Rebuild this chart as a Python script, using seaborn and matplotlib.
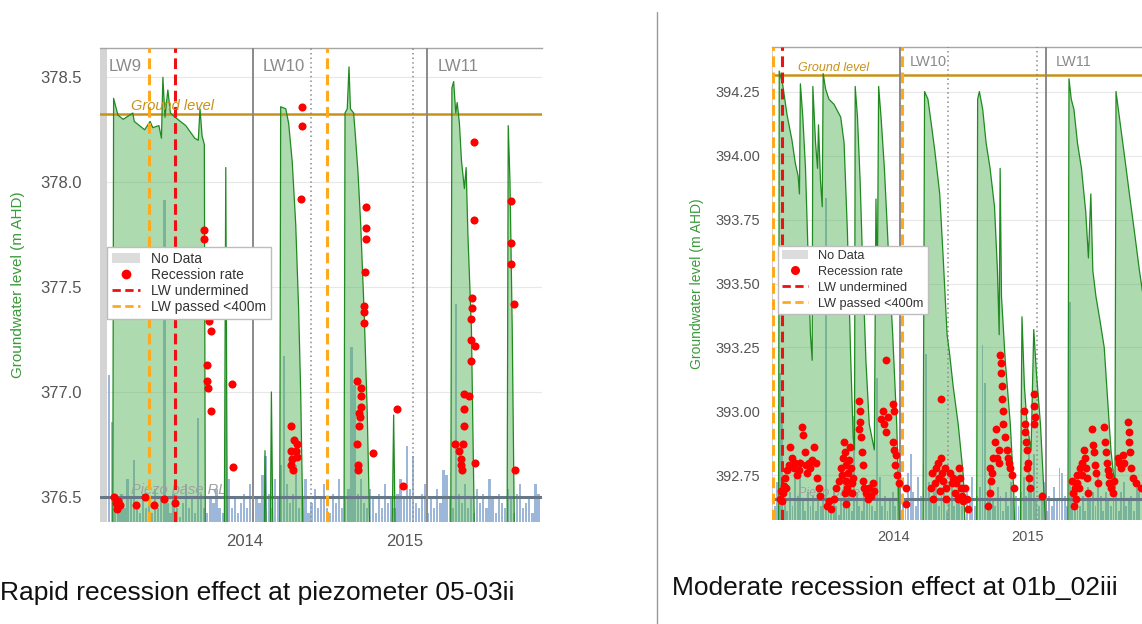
import numpy as np
import matplotlib
matplotlib.use("Agg")
import matplotlib.pyplot as plt
import seaborn as sns
from matplotlib.lines import Line2D
from matplotlib.patches import Patch

sns.set_theme(style="whitegrid")
plt.rcParams['font.family'] = ['Liberation Sans', 'DejaVu Sans']

# time axis in decimal years (same window on both piezometers)
x_start, x_end = 2013.094, 2015.856
year_ticks = [2014, 2015]

# weekly rainfall (mm), first week at x_start - same gauge for both sites
rain_mm = [
    1, 3, 8, 31, 21, 4, 2, 6, 3, 9, 5, 13,
    4, 2, 6, 3, 5, 2, 7, 3, 5, 68, 4, 2,
    6, 3, 1, 4, 8, 3, 5, 2, 22, 6, 3, 2,
    5, 4, 7, 3, 2, 30, 9, 3, 5, 2, 4, 6,
    3, 8, 2, 5, 4, 10, 14, 6, 3, 9, 5, 12,
    35, 8, 4, 6, 12, 3, 5, 9, 2, 4, 7, 3,
    5, 8, 3, 2, 6, 4, 9, 3, 5, 7, 37, 29,
    6, 9, 4, 3, 7, 5, 2, 6, 3, 8, 4, 5,
    3, 6, 9, 5, 16, 7, 14, 4, 3, 6, 8, 2,
    5, 3, 7, 4, 11, 10, 5, 3, 46, 6, 4, 8,
    3, 5, 2, 7, 4, 6, 3, 9, 5, 2, 6, 4,
    3, 7, 5, 2, 6, 8, 3, 4, 5, 2, 8, 6,
]

# ---- piezometer 05-03ii (rapid recession)
p1_level = [
    (2013.174, 376.36), (2013.179, 378.40), (2013.206, 378.32), (2013.239, 378.30),
    (2013.299, 378.33), (2013.308, 378.29), (2013.373, 378.25), (2013.407, 378.29),
    (2013.424, 378.26), (2013.462, 378.27), (2013.478, 378.21), (2013.487, 378.50),
    (2013.500, 378.31), (2013.518, 378.44), (2013.534, 378.33), (2013.563, 378.31),
    (2013.630, 378.27), (2013.686, 378.21), (2013.708, 378.20), (2013.719, 378.35),
    (2013.732, 378.22), (2013.746, 378.18), (2013.752, 376.36), (2013.871, 376.36),
    (2013.880, 378.07), (2013.889, 376.36), (2014.121, 376.36), (2014.125, 376.72),
    (2014.132, 376.36), (2014.159, 376.36), (2014.165, 377.00), (2014.174, 376.36),
    (2014.217, 376.36), (2014.223, 378.36), (2014.255, 378.35), (2014.273, 378.28),
    (2014.295, 378.10), (2014.317, 377.80), (2014.335, 377.40), (2014.348, 377.00),
    (2014.362, 376.36), (2014.619, 376.36), (2014.625, 378.33), (2014.639, 378.35),
    (2014.650, 378.55), (2014.659, 378.35), (2014.679, 378.33), (2014.690, 378.22),
    (2014.706, 378.05), (2014.723, 377.80), (2014.746, 377.35), (2014.764, 376.90),
    (2014.779, 376.36), (2014.920, 376.36), (2014.929, 376.89), (2014.938, 376.36),
    (2015.286, 376.36), (2015.293, 378.45), (2015.304, 378.48), (2015.317, 378.33),
    (2015.326, 378.38), (2015.340, 378.28), (2015.353, 378.10), (2015.371, 377.97),
    (2015.382, 378.07), (2015.393, 377.75), (2015.415, 377.30), (2015.433, 376.36),
    (2015.638, 376.36), (2015.645, 378.27), (2015.656, 378.00), (2015.670, 377.30),
    (2015.683, 376.36), (2015.862, 376.36),
]
p1_recession = [
    (2013.183, 376.50), (2013.194, 376.47), (2013.200, 376.44), (2013.206, 376.48),
    (2013.217, 376.46), (2013.317, 376.46), (2013.373, 376.50), (2013.429, 376.46),
    (2013.496, 376.49), (2013.563, 376.47),
    (2013.741, 377.77), (2013.746, 377.73), (2013.752, 377.67), (2013.759, 377.38),
    (2013.775, 377.34), (2013.786, 377.29), (2013.764, 377.13), (2013.761, 377.05),
    (2013.768, 377.02), (2013.786, 376.91), (2013.920, 377.04), (2013.924, 376.64),
    (2014.355, 378.36), (2014.355, 378.27), (2014.348, 377.92), (2014.288, 376.84),
    (2014.304, 376.77), (2014.322, 376.75), (2014.288, 376.72), (2014.317, 376.72),
    (2014.295, 376.68), (2014.322, 376.69), (2014.288, 376.65), (2014.299, 376.63),
    (2014.757, 377.88), (2014.757, 377.78), (2014.757, 377.73), (2014.750, 377.57),
    (2014.746, 377.41), (2014.746, 377.38), (2014.744, 377.33), (2014.697, 377.05),
    (2014.723, 377.02), (2014.728, 376.98), (2014.728, 376.93), (2014.712, 376.90),
    (2014.712, 376.84), (2014.701, 376.75), (2014.708, 376.63), (2014.708, 376.65),
    (2014.797, 376.71), (2014.719, 376.88), (2014.951, 376.92), (2014.987, 376.55),
    (2015.433, 378.19), (2015.433, 377.82), (2015.420, 377.45), (2015.420, 377.40),
    (2015.415, 377.35), (2015.415, 377.25), (2015.438, 377.22), (2015.415, 377.15),
    (2015.368, 376.99), (2015.400, 376.98), (2015.371, 376.92), (2015.371, 376.84),
    (2015.315, 376.75), (2015.362, 376.75), (2015.337, 376.72), (2015.348, 376.68),
    (2015.348, 376.65), (2015.353, 376.63), (2015.438, 376.66),
    (2015.661, 377.91), (2015.661, 377.71), (2015.665, 377.61), (2015.683, 377.42),
    (2015.688, 376.63),
]

# ---- piezometer 01b_02iii (moderate recession)
p2_level = [
    (2013.106, 392.56), (2013.143, 392.56), (2013.148, 394.33), (2013.173, 394.28),
    (2013.206, 394.16), (2013.243, 394.06), (2013.268, 393.97), (2013.289, 393.92),
    (2013.299, 393.85), (2013.306, 394.28), (2013.324, 394.15), (2013.344, 393.95),
    (2013.364, 393.60), (2013.381, 393.30), (2013.394, 393.20), (2013.399, 394.27),
    (2013.419, 394.05), (2013.434, 393.95), (2013.441, 394.12), (2013.456, 393.90),
    (2013.469, 393.80), (2013.476, 394.32), (2013.494, 394.26), (2013.519, 394.22),
    (2013.557, 394.20), (2013.607, 394.15), (2013.632, 394.05), (2013.657, 393.70),
    (2013.682, 393.20), (2013.700, 392.90), (2013.710, 392.85), (2013.715, 394.27),
    (2013.732, 394.15), (2013.752, 393.90), (2013.775, 393.50), (2013.795, 393.20),
    (2013.820, 392.95), (2013.858, 392.85), (2013.870, 393.83), (2013.880, 393.45),
    (2013.890, 394.27), (2013.908, 394.15), (2013.933, 393.95), (2013.970, 393.55),
    (2013.995, 393.30), (2014.025, 392.95), (2014.045, 392.56), (2014.221, 392.56),
    (2014.233, 394.25), (2014.258, 394.22), (2014.284, 394.12), (2014.309, 394.02),
    (2014.346, 393.85), (2014.372, 393.60), (2014.401, 393.30), (2014.421, 393.22),
    (2014.446, 393.10), (2014.484, 392.95), (2014.522, 392.75), (2014.534, 392.56),
    (2014.622, 392.56), (2014.629, 394.22), (2014.642, 394.25), (2014.667, 394.18),
    (2014.692, 394.05), (2014.722, 393.95), (2014.755, 393.80), (2014.777, 393.55),
    (2014.790, 393.30), (2014.797, 393.95), (2014.807, 393.45), (2014.835, 393.20),
    (2014.873, 392.95), (2014.898, 392.70), (2014.905, 392.56), (2014.948, 392.56),
    (2014.960, 393.37), (2014.978, 393.10), (2014.998, 392.95), (2015.028, 392.85),
    (2015.048, 393.32), (2015.068, 393.15), (2015.098, 392.95), (2015.136, 392.56),
    (2015.303, 392.56), (2015.311, 394.30), (2015.328, 394.22), (2015.348, 394.18),
    (2015.374, 394.05), (2015.404, 393.95), (2015.436, 393.78), (2015.456, 393.60),
    (2015.474, 393.85), (2015.489, 393.55), (2015.512, 393.45), (2015.544, 393.35),
    (2015.574, 393.25), (2015.599, 393.05), (2015.624, 392.85), (2015.644, 392.75),
    (2015.654, 392.70), (2015.662, 394.25), (2015.687, 394.15), (2015.725, 394.00),
    (2015.762, 393.85), (2015.800, 393.70), (2015.837, 393.55), (2015.865, 393.45),
]
p2_recession = [
    (2013.156, 392.66), (2013.160, 392.69), (2013.168, 392.65), (2013.175, 392.68),
    (2013.181, 392.71), (2013.193, 392.74), (2013.200, 392.70), (2013.206, 392.77),
    (2013.218, 392.79), (2013.231, 392.86), (2013.243, 392.82), (2013.256, 392.78),
    (2013.268, 392.80), (2013.281, 392.75), (2013.294, 392.77), (2013.306, 392.80),
    (2013.319, 392.94), (2013.325, 392.91), (2013.344, 392.84), (2013.350, 392.79),
    (2013.356, 392.76), (2013.369, 392.80), (2013.381, 392.78), (2013.394, 392.81),
    (2013.406, 392.86), (2013.419, 392.80), (2013.431, 392.74), (2013.444, 392.70),
    (2013.456, 392.67),
    (2013.507, 392.63), (2013.520, 392.65), (2013.532, 392.62), (2013.557, 392.66),
    (2013.575, 392.70),
    (2013.594, 392.73), (2013.607, 392.78), (2013.619, 392.75), (2013.626, 392.82),
    (2013.632, 392.88), (2013.638, 392.84), (2013.644, 392.79), (2013.650, 392.73),
    (2013.657, 392.70), (2013.663, 392.76), (2013.669, 392.81), (2013.676, 392.86),
    (2013.682, 392.78), (2013.688, 392.72), (2013.694, 392.68), (2013.700, 392.74),
    (2013.636, 392.68), (2013.650, 392.64),
    (2013.745, 393.04), (2013.748, 393.00), (2013.752, 392.96), (2013.745, 392.93),
    (2013.757, 392.90), (2013.763, 392.84), (2013.770, 392.79), (2013.776, 392.73),
    (2013.782, 392.70), (2013.795, 392.68), (2013.807, 392.66), (2013.820, 392.70),
    (2013.833, 392.67), (2013.845, 392.72), (2013.858, 392.69),
    (2013.945, 393.20), (2013.907, 392.97), (2013.920, 393.00), (2013.933, 392.95),
    (2013.945, 392.92), (2013.958, 392.98), (2013.995, 393.03), (2014.005, 393.00),
    (2013.998, 392.88), (2014.008, 392.85), (2014.020, 392.83), (2014.012, 392.79),
    (2014.028, 392.75), (2014.040, 392.72), (2014.095, 392.70), (2014.095, 392.64),
    (2014.359, 393.05), (2014.359, 392.82), (2014.283, 392.70), (2014.290, 392.76),
    (2014.296, 392.66), (2014.309, 392.72), (2014.321, 392.78), (2014.334, 392.80),
    (2014.340, 392.74), (2014.346, 392.69), (2014.365, 392.76), (2014.371, 392.73),
    (2014.384, 392.78), (2014.390, 392.70), (2014.396, 392.66),
    (2014.421, 392.76), (2014.434, 392.72), (2014.446, 392.74), (2014.459, 392.68),
    (2014.471, 392.72), (2014.480, 392.66), (2014.490, 392.78), (2014.497, 392.74),
    (2014.503, 392.70), (2014.509, 392.67), (2014.522, 392.65), (2014.535, 392.70),
    (2014.547, 392.66), (2014.559, 392.62),
    (2014.797, 393.22), (2014.800, 393.19), (2014.805, 393.15), (2014.810, 393.10),
    (2014.813, 393.05), (2014.817, 393.00), (2014.822, 392.95), (2014.767, 392.93),
    (2014.760, 392.88), (2014.785, 392.85), (2014.772, 392.82), (2014.790, 392.80),
    (2014.835, 392.90), (2014.847, 392.85), (2014.853, 392.82), (2014.860, 392.80),
    (2014.872, 392.78), (2014.885, 392.75), (2014.898, 392.70), (2014.722, 392.78),
    (2014.728, 392.73), (2014.722, 392.68), (2014.710, 392.63), (2014.747, 392.82),
    (2014.740, 392.76),
    (2014.973, 393.00), (2014.980, 392.95), (2014.985, 392.92), (2014.992, 392.88),
    (2014.998, 392.85), (2015.004, 392.80), (2014.998, 392.78), (2015.010, 392.74),
    (2015.023, 392.70), (2015.048, 393.07), (2015.053, 393.02), (2015.060, 392.98),
    (2015.050, 392.95), (2015.111, 392.67),
    (2015.336, 392.73), (2015.343, 392.68), (2015.349, 392.63), (2015.355, 392.70),
    (2015.361, 392.66), (2015.368, 392.72), (2015.374, 392.75), (2015.386, 392.70),
    (2015.392, 392.78), (2015.405, 392.75), (2015.411, 392.80), (2015.424, 392.85),
    (2015.430, 392.82), (2015.436, 392.78), (2015.449, 392.74), (2015.456, 392.68),
    (2015.486, 392.93), (2015.493, 392.87), (2015.499, 392.84), (2015.505, 392.79),
    (2015.512, 392.76), (2015.524, 392.72),
    (2015.574, 392.94), (2015.580, 392.88), (2015.587, 392.84), (2015.593, 392.80),
    (2015.599, 392.77), (2015.606, 392.75), (2015.612, 392.72), (2015.624, 392.70),
    (2015.637, 392.68), (2015.649, 392.73), (2015.674, 392.82), (2015.687, 392.80),
    (2015.700, 392.78), (2015.712, 392.83), (2015.725, 392.80), (2015.750, 392.96),
    (2015.756, 392.92), (2015.762, 392.88), (2015.768, 392.84), (2015.775, 392.78),
    (2015.787, 392.74), (2015.812, 392.72), (2015.850, 392.70),
]

# longwall events
p1_lw = {"starts": [2013.09, 2014.05, 2015.14], "names": ["LW9", "LW10", "LW11"],
         "ends": [2014.41, 2015.05], "undermined": [2013.56], "passed": [2013.40, 2014.51],
         "nodata": (2013.06, 2013.135)}
p2_lw = {"starts": [2013.09, 2014.05, 2015.14], "names": ["", "LW10", "LW11"],
         "ends": [2014.41, 2015.07], "undermined": [2013.165], "passed": [2013.105, 2014.065],
         "nodata": (2013.06, 2013.098)}

GREEN = "#1f8a1f"
GOLD = "#c8921a"
RED = "#ee1111"
ORANGE = "#ffaa1e"


def draw_panel(ax, level, dots, lw, ylim, yticks, yfmt, ground, base, fs, lab_y, pads):
    y0, y1 = ylim
    # rainfall bars along the bottom
    rain_t = x_start + np.arange(len(rain_mm)) * 7 / 365.25
    rain_h = np.array(rain_mm) / 100 * (y1 - y0)
    ax.bar(rain_t, rain_h, bottom=y0, width=0.014, color="#9db7d8", linewidth=0, zorder=1)

    ax.axvspan(*lw["nodata"], color="#d4d4d4", zorder=1.5, lw=0)

    t = [p[0] for p in level]
    lv = [p[1] for p in level]
    ax.fill_between(t, lv, y0 - 1, color="#4caf50", alpha=0.45, lw=0, zorder=2)
    sns.lineplot(x=t, y=lv, ax=ax, color=GREEN, linewidth=0.9, estimator=None, sort=False, zorder=4)

    ax.axhline(ground, color=GOLD, lw=1.8, zorder=3)
    ax.axhline(base, color="#667788", lw=2.2, zorder=3)
    ax.annotate("Ground level", xy=(2013.29, ground), xytext=(0, 0.5), textcoords="offset points",
                color=GOLD, style="italic", fontsize=fs["small"], va="bottom", zorder=5)
    ax.annotate("Piezo base RL", xy=(2013.29, base), xytext=(0, 0), textcoords="offset points",
                color="#a0a0a0", style="italic", fontsize=fs["small"], va="bottom", zorder=3)

    for x, name in zip(lw["starts"], lw["names"]):
        ax.axvline(x, color="#8a8a8a", lw=1.4, zorder=3)
        if name:
            ax.annotate(name, xy=(x, lab_y), xycoords=("data", "axes fraction"), xytext=(7, 0),
                        textcoords="offset points", va="center", color="#8a8a8a", fontsize=fs["lw"])
    for x in lw["ends"]:
        ax.axvline(x, color="#8a8a8a", lw=1.1, ls=(0, (1, 2)), zorder=3)
    for x in lw["passed"]:
        ax.axvline(x, color=ORANGE, lw=2.2, ls=(0, (3.5, 1.8)), zorder=4)
    for x in lw["undermined"]:
        ax.axvline(x, color=RED, lw=2.2, ls=(0, (3.5, 1.8)), zorder=4)

    sns.scatterplot(x=[p[0] for p in dots], y=[p[1] for p in dots], ax=ax, color="#ff0000",
                    s=fs["dot"], linewidth=0, zorder=6)

    ax.set_xlim(x_start, x_end)
    ax.set_ylim(y0, y1)
    ax.set_xticks(year_ticks)
    ax.set_xticklabels([str(y) for y in year_ticks])
    ax.set_yticks(yticks)
    ax.set_yticklabels([yfmt % v for v in yticks])
    ax.tick_params(axis="x", length=0, pad=pads[0], labelsize=fs["tick"], labelcolor="#555555")
    ax.tick_params(axis="y", length=0, pad=pads[1], labelsize=fs["tick"], labelcolor="#555555")
    ax.grid(axis="x", visible=False)
    ax.grid(axis="y", color="#e8e8e8", lw=0.8)
    ax.set_facecolor("white")
    for side in ["left", "right", "bottom"]:
        ax.spines[side].set_visible(False)
    ax.spines["top"].set_color("#a6a6a6")
    ax.spines["top"].set_linewidth(1.0)
    ax.set_xlabel("")
    ax.set_ylabel("Groundwater level (m AHD)", color="#3a9a3a", fontsize=fs["ylabel"])

    handles = [
        Patch(facecolor="#dcdcdc", edgecolor="none", label="No Data"),
        Line2D([], [], ls="none", marker="o", markersize=fs["legmark"], markerfacecolor="#ff0000",
               markeredgewidth=0, label="Recession rate"),
        Line2D([], [], color=RED, lw=2, ls=(0, (3, 1.6)), label="LW undermined"),
        Line2D([], [], color=ORANGE, lw=2, ls=(0, (3, 1.6)), label="LW passed <400m"),
    ]
    leg = ax.legend(handles=handles, loc="upper left", bbox_to_anchor=(0.016, 0.58),
                    fontsize=fs["legend"], frameon=True, fancybox=False, framealpha=1,
                    edgecolor="#bdbdbd", labelspacing=fs["legspace"], borderpad=0.35,
                    handlelength=2.0, handletextpad=0.8, borderaxespad=0)
    leg.set_zorder(10)
    for txt in leg.get_texts():
        txt.set_color("#333333")


fig = plt.figure(figsize=(11.42, 6.24), dpi=100)
ax1 = fig.add_axes([100 / 1142, 1 - 522 / 624, 442 / 1142, 474 / 624])
ax2 = fig.add_axes([772 / 1142, 1 - 520 / 624, 370 / 1142, 473 / 624])

draw_panel(ax1, p1_level, p1_recession, p1_lw, (376.38, 378.64),
           [376.5, 377.0, 377.5, 378.0, 378.5], "%.1f", 378.325, 376.5,
           {"small": 10.5, "lw": 12, "tick": 12, "ylabel": 11, "legend": 10, "legmark": 7,
            "legspace": 0.15, "dot": 34},
           0.96, (8.5, 13))
draw_panel(ax2, p2_level, p2_recession, p2_lw, (392.576, 394.424),
           [392.75, 393.0, 393.25, 393.5, 393.75, 394.0, 394.25], "%.2f", 394.316, 392.66,
           {"small": 9, "lw": 10.5, "tick": 10.5, "ylabel": 10, "legend": 9.2, "legmark": 6.5,
            "legspace": 0.3, "dot": 32},
           0.968, (7, 8.5))
ax1.yaxis.set_label_coords(-0.17, 0.5)
ax2.yaxis.set_label_coords(-0.185, 0.5)

fig.text(0, 1 - 593 / 624, "Rapid recession effect at piezometer 05-03ii",
         fontsize=19, color="#111111", ha="left", va="center")
fig.text(672 / 1142, 1 - 588 / 624, "Moderate recession effect at 01b_02iii",
         fontsize=19, color="#111111", ha="left", va="center")
fig.add_artist(Line2D([657 / 1142, 657 / 1142], [0, 1 - 12 / 624], color="#999999",
                      lw=1.0, transform=fig.transFigure))

fig.savefig("out.png", dpi=100)
